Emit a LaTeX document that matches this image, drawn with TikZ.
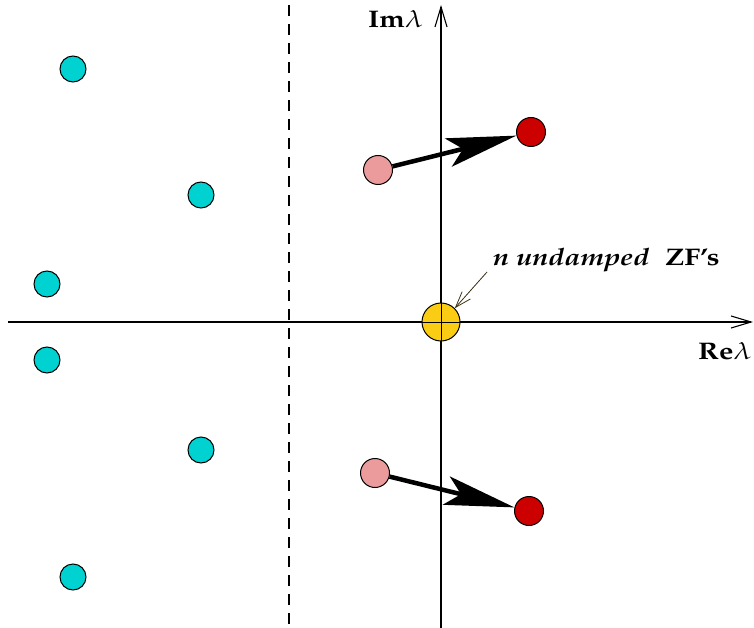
\documentclass[tikz,border=0pt]{standalone}
\usepackage[T1]{fontenc}
\usepackage{mathpazo}
\usepackage{graphicx}
\usetikzlibrary{arrows.meta}
\definecolor{cyanfill}{RGB}{0,210,210}
\definecolor{pinkfill}{RGB}{235,155,155}
\definecolor{redfill}{RGB}{205,0,0}
\definecolor{yelfill}{RGB}{250,205,20}
\definecolor{olive}{RGB}{60,50,20}
\newcommand{\wide}[1]{\scalebox{1.2}[1]{#1}}
\begin{document}
\begin{tikzpicture}[x=1pt,y=-1pt,
  axis/.style={line width=1.1pt,-{Straight Barb[length=20pt,width=12pt,line width=1.1pt]}},
  cyanpt/.style={circle,draw,line width=1pt,fill=cyanfill,minimum size=26pt,inner sep=0pt},
  pinkpt/.style={circle,draw,line width=1pt,fill=pinkfill,minimum size=29pt,inner sep=0pt},
  redpt/.style={circle,draw,line width=1pt,fill=redfill,minimum size=29pt,inner sep=0pt},
  yelpt/.style={circle,draw,line width=1pt,fill=yelfill,minimum size=38pt,inner sep=0pt},
  bigarrow/.style={line width=4.5pt,-{Stealth[length=70pt,width=29pt,inset=15pt]},shorten >=0pt},
  lbl/.style={font=\fontsize{24}{28}\selectfont,inner sep=0pt}]
\useasboundingbox (0,0) rectangle (754,628);
% dashed line
\draw[line width=2.6pt,dash pattern=on 11pt off 8pt] (289,5) -- (289,628);
% axes
\coordinate (xs) at (8,322);
\coordinate (xe) at (753,322);
\coordinate (ys) at (441,628);
\coordinate (ye) at (441,5);
\draw[axis] (xs) -- (xe);
\draw[axis] (ys) -- (ye);
% yellow point
\node[yelpt] (Y) at (441,322) {};
\draw[line width=1pt] (Y.west) -- (Y.east) (Y.north) -- (Y.south);
% cyan points
\node[cyanpt] (c1) at (73,69) {};
\node[cyanpt] (c2) at (201,195) {};
\node[cyanpt] (c3) at (47,284) {};
\node[cyanpt] (c4) at (47,360) {};
\node[cyanpt] (c5) at (201,450) {};
\node[cyanpt] (c6) at (73,577) {};
% pink and red
\node[pinkpt] (p1) at (378,170) {};
\node[redpt] (r1) at (531,132) {};
\node[pinkpt] (p2) at (375,473) {};
\node[redpt] (r2) at (529,511) {};
\draw[bigarrow] (p1) -- (r1);
\draw[bigarrow] (p2) -- (r2);
% labels
\node[lbl,anchor=base west] (im) at (368,28) {\wide{\textbf{Im}$\lambda$}};
\node[lbl,anchor=base west] (re) at (698,359) {\wide{\textbf{Re}$\lambda$}};
\node[lbl,anchor=base west] (zf) at (493,265) {\wide{\textit{\textbf{n undamped}}}\hspace{16pt}\wide{\textbf{ZF's}}};
\coordinate (zfa) at (487,272);
\draw[line width=0.8pt,olive,-{Straight Barb[length=16pt,width=11pt,line width=0.8pt]}] (zfa) -- (Y.north east);
\end{tikzpicture}
\end{document}
